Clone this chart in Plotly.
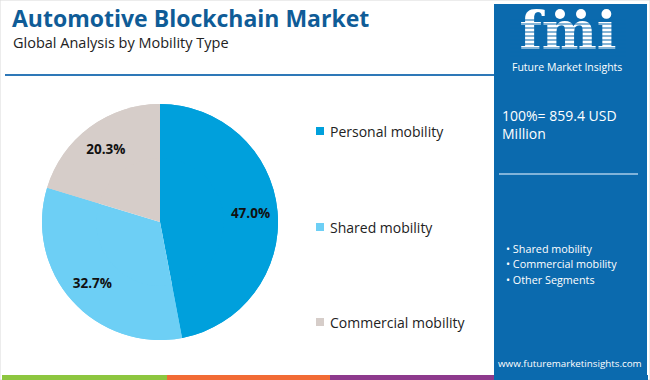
import plotly.graph_objects as go

categories = ["Personal mobility", "Shared mobility", "Commercial mobility"]
shares = [47.0, 32.7, 20.3]
colors = ["#00A0DC", "#6DCFF5", "#D6CDC9"]
panel_bullets = ["Shared mobility", "Commercial mobility", "Other Segments"]
total_text = "100%= 859.4 USD<br>Million"
title = "Automotive Blockchain Market"
subtitle = "Global Analysis by Mobility Type"
logo_text = "fmi"
logo_sub = "Future Market Insights"
website = "www.futuremarketinsights.com"

W, H = 650, 380
FONT = "Open Sans"

def px(x):
    return x / W

def py(y):
    return 1 - y / H

cx, cy, r = 160, 222, 118
pie_domain = dict(x=[px(cx - r), px(cx + r)], y=[py(cy + r), py(cy - r)])

fig = go.Figure()
# full pie (colour fill)
fig.add_trace(go.Pie(
    labels=categories, values=shares,
    marker=dict(colors=colors, line=dict(width=0)),
    sort=False, direction="clockwise", rotation=0,
    textinfo="none", domain=pie_domain, showlegend=False,
    hoverinfo="label+percent",
))
# ring on top that carries the labels further out
fig.add_trace(go.Pie(
    labels=categories, values=shares, hole=0.54,
    marker=dict(colors=colors, line=dict(width=0)),
    sort=False, direction="clockwise", rotation=0,
    texttemplate="<b>%{value:.1f}%</b>",
    textposition="inside", insidetextorientation="horizontal",
    insidetextfont=dict(family=FONT, size=13.5, color="#111111"),
    domain=pie_domain, showlegend=False,
    hoverinfo="label+percent",
))

# logo text as a trace so stripes (shapes above) can cut it
fig.add_trace(go.Scatter(
    x=[568], y=[36], mode="text", text=[logo_text], cliponaxis=False,
    textfont=dict(family="DejaVu Serif", size=52, color="#FFFFFF", weight="bold"),
    xaxis="x", yaxis="y", showlegend=False, hoverinfo="skip",
))

shapes = []
annotations = []

# outer frame
shapes.append(dict(type="rect", xref="paper", yref="paper", x0=0, x1=1, y0=0, y1=1,
                   line=dict(color="#D9D9D9", width=1), fillcolor="rgba(0,0,0,0)", layer="below"))
# header divider line
shapes.append(dict(type="line", xref="paper", yref="paper", x0=px(5), x1=px(494), y0=py(75), y1=py(75),
                   line=dict(color="#2E78B8", width=2)))
# right panel
shapes.append(dict(type="rect", xref="paper", yref="paper", x0=px(494), x1=px(647), y0=py(375), y1=py(4),
                   line=dict(width=0), fillcolor="#0B6AAE", layer="below"))
# logo stripes
for yy in range(20, 58, 4):
    shapes.append(dict(type="line", xref="paper", yref="paper", x0=px(510), x1=px(626),
                       y0=py(yy), y1=py(yy), line=dict(color="#0B6AAE", width=1.2), layer="above"))
# small globes above the letters
for gx in (560, 581):
    shapes.append(dict(type="circle", xref="paper", yref="paper", x0=px(gx - 5), x1=px(gx + 5),
                       y0=py(19), y1=py(9), line=dict(width=0), fillcolor="#FFFFFF", layer="above"))
# panel divider
shapes.append(dict(type="line", xref="paper", yref="paper", x0=px(499), x1=px(638), y0=py(174), y1=py(174),
                   line=dict(color="#A9CCE8", width=1.5)))
# bottom colour stripe
stripe = [("#8DC63F", 2, 167), ("#F26B35", 167, 330), ("#8E3A8D", 330, 494), ("#0B6AAE", 494, 648)]
for col, a, b in stripe:
    shapes.append(dict(type="rect", xref="paper", yref="paper", x0=px(a), x1=px(b), y0=0, y1=py(375),
                       line=dict(width=0), fillcolor=col))

# legend (custom)
leg_y = [131, 227, 322]
for name, col, yy in zip(categories, colors, leg_y):
    shapes.append(dict(type="rect", xref="paper", yref="paper", x0=px(316), x1=px(324),
                       y0=py(yy + 4), y1=py(yy - 4), line=dict(width=0), fillcolor=col))
    annotations.append(dict(text=name, xref="paper", yref="paper", x=px(328), y=py(yy),
                            xanchor="left", yanchor="middle", showarrow=False,
                            font=dict(family=FONT, size=14, color="#222222")))

# title and subtitle
annotations.append(dict(text="<b>" + title + "</b>", xref="paper", yref="paper", x=px(10), y=py(18),
                        xanchor="left", yanchor="middle", showarrow=False,
                        font=dict(family=FONT, size=23, color="#0F5C97")))
annotations.append(dict(text=subtitle, xref="paper", yref="paper", x=px(11), y=py(42),
                        xanchor="left", yanchor="middle", showarrow=False,
                        font=dict(family=FONT, size=14.5, color="#222222")))

annotations.append(dict(text=logo_sub, xref="paper", yref="paper", x=px(567), y=py(67),
                        xanchor="center", yanchor="middle", showarrow=False,
                        font=dict(family=FONT, size=10.5, color="#FFFFFF")))

# panel texts
annotations.append(dict(text=total_text, xref="paper", yref="paper", x=px(500), y=py(124),
                        xanchor="left", yanchor="middle", align="left", showarrow=False,
                        font=dict(family=FONT, size=14, color="#FFFFFF")))
for txt, yy in zip(panel_bullets, [248, 263, 279]):
    annotations.append(dict(text="\u2022 " + txt, xref="paper", yref="paper", x=px(504), y=py(yy),
                            xanchor="left", yanchor="middle", showarrow=False,
                            font=dict(family=FONT, size=10.8, color="#FFFFFF")))
annotations.append(dict(text=website, xref="paper", yref="paper", x=px(570), y=py(363),
                        xanchor="center", yanchor="middle", showarrow=False,
                        font=dict(family=FONT, size=9.8, color="#FFFFFF")))

fig.update_layout(
    width=W, height=H,
    margin=dict(l=0, r=0, t=0, b=0),
    paper_bgcolor="#FFFFFF",
    plot_bgcolor="rgba(0,0,0,0)",
    xaxis=dict(domain=[0, 1], range=[0, W], visible=False, fixedrange=True),
    yaxis=dict(domain=[0, 1], range=[H, 0], visible=False, fixedrange=True),
    shapes=shapes,
    annotations=annotations,
    showlegend=False,
)

fig.write_html("out.html", config={"displayModeBar": False},
               post_script="document.body.style.margin='0';")
